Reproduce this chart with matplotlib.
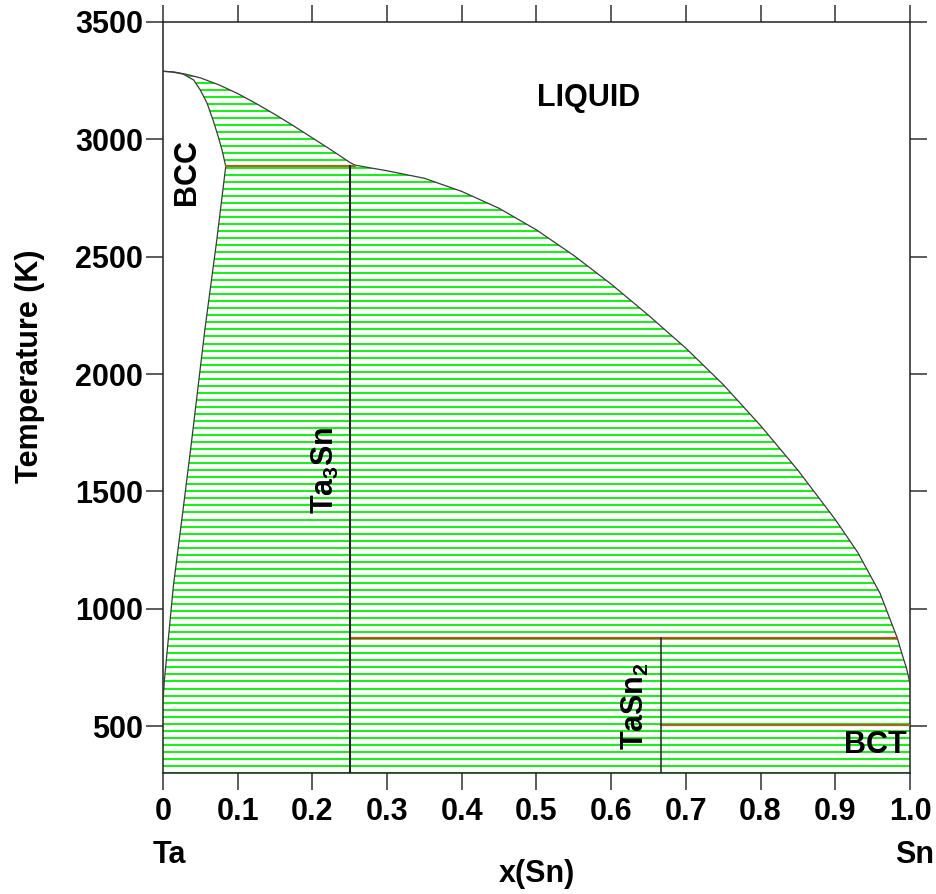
import numpy as np
import matplotlib
matplotlib.use("Agg")
import matplotlib.pyplot as plt
from matplotlib.path import Path
from matplotlib.patches import PathPatch

plt.rcParams['font.family'] = ['Liberation Sans', 'DejaVu Sans']
plt.rcParams['font.weight'] = 'bold'
plt.rcParams['mathtext.fontset'] = 'custom'
plt.rcParams['mathtext.rm'] = 'Liberation Sans:bold'
plt.rcParams['mathtext.bf'] = 'Liberation Sans:bold'
plt.rcParams['mathtext.default'] = 'bf'

# --- Ta-Sn phase boundaries (x = mole fraction Sn, T in K) ---
# BCC solidus: Ta melting point down to the peritectic
bcc_solidus_x = [0.0, 0.012, 0.027, 0.041, 0.050, 0.059, 0.067, 0.074, 0.079, 0.084]
bcc_solidus_T = [3290, 3287, 3278, 3253, 3210, 3154, 3082, 3011, 2955, 2885]
# BCC solvus below the peritectic
bcc_solvus_x = [0.084, 0.072, 0.056, 0.038, 0.026, 0.020, 0.014, 0.011,
                0.008, 0.005, 0.002, 0.0]
bcc_solvus_T = [2885, 2571, 2188, 1706, 1400, 1250, 1100, 1000,
                900, 800, 700, 610]
# Liquidus on the Ta side of Ta3Sn
liq_ta_x = [0.0, 0.015, 0.03, 0.05, 0.075, 0.10, 0.125, 0.15, 0.175,
            0.20, 0.225, 0.25, 0.257]
liq_ta_T = [3290, 3287, 3278, 3262, 3232, 3195, 3152, 3106, 3057,
            3006, 2955, 2902, 2890]
# Liquidus from Ta3Sn to pure Sn
liq_sn_x = [0.257, 0.30, 0.35, 0.40, 0.45, 0.50, 0.55, 0.60, 0.65, 0.70,
            0.75, 0.80, 0.85, 0.90, 0.93, 0.96, 0.983, 0.990, 0.995,
            0.998, 1.0]
liq_sn_T = [2890, 2866, 2834, 2778, 2706, 2614, 2505, 2383, 2250, 2110,
            1955, 1780, 1590, 1380, 1240, 1065, 875, 800, 750,
            710, 680]

# Compounds and invariant reactions
x_ta3sn, T_ta3sn = 0.25, 2885
x_tasn2, T_tasn2 = 0.667, 875
T_peritectic_bcc = 2885
x_peritectic_bcc = (0.084, 0.257)
x_peritectic_tasn2 = (0.25, 0.983)
T_sn_melt = 505
x_sn_melt = (0.667, 1.0)

T_min, T_max = 300, 3500
tie_T = np.arange(300, 3300, 30)

xticks = [0, 0.1, 0.2, 0.3, 0.4, 0.5, 0.6, 0.7, 0.8, 0.9, 1.0]
xtick_labels = ['0', '0.1', '0.2', '0.3', '0.4', '0.5', '0.6', '0.7', '0.8', '0.9', '1.0']
yticks = [500, 1000, 1500, 2000, 2500, 3000, 3500]

W, H = 937, 894
fig = plt.figure(figsize=(W / 100, H / 100), dpi=100)
ax = fig.add_axes([163 / W, 1 - 773 / H, 747 / W, 751 / H])
ax.set_xlim(0, 1)
ax.set_ylim(T_min, T_max)

# Two-phase region outline used to clip the tie lines
region_x = (bcc_solidus_x + bcc_solvus_x[1:] + [0.0, 1.0]
            + liq_sn_x[::-1][:-1] + liq_ta_x[::-1])
region_T = (bcc_solidus_T + bcc_solvus_T[1:] + [T_min, T_min]
            + liq_sn_T[::-1][:-1] + liq_ta_T[::-1])
verts = np.column_stack([region_x, region_T])
clip = PathPatch(Path(verts, closed=False), transform=ax.transData,
                 facecolor='none', edgecolor='none')
ax.add_patch(clip)

tie = ax.hlines(tie_T, 0, 1, colors='#00f000', linewidth=1.3, zorder=1)
tie.set_clip_path(clip)

bc = '#3a3a3a'
for xs, ts in [(bcc_solidus_x, bcc_solidus_T), (bcc_solvus_x, bcc_solvus_T),
               (liq_ta_x, liq_ta_T), (liq_sn_x, liq_sn_T)]:
    ax.plot(xs, ts, color=bc, lw=0.9, zorder=3, solid_joinstyle='round')

# Compound lines
ax.plot([x_ta3sn, x_ta3sn], [T_min, T_ta3sn], color='#202020', lw=1.5, zorder=4)
ax.plot([x_tasn2, x_tasn2], [T_min, T_tasn2], color='#202020', lw=1.1, zorder=4)

# Invariant lines
ax.plot(x_peritectic_bcc, [T_peritectic_bcc] * 2, color='#a8641e', lw=1.6, zorder=3)
ax.plot(x_peritectic_tasn2, [T_tasn2] * 2, color='#ff1a1a', lw=1.3, zorder=3)
ax.plot(x_sn_melt, [T_sn_melt] * 2, color='#9c6a1a', lw=1.6, zorder=3)

# Axes styling
for s in ax.spines.values():
    s.set_linewidth(1.1)
    s.set_color('#202020')
ax.set_xticks(xticks)
ax.set_xticklabels(xtick_labels)
ax.set_yticks(yticks)
ax.tick_params(which='both', direction='out', length=12.5, width=1.1,
               color='#303030', top=True, right=True, labelsize=22)
ax.tick_params(axis='x', pad=5)
ax.tick_params(axis='y', pad=2)
for lab in ax.get_xticklabels() + ax.get_yticklabels():
    lab.set_fontweight('bold')

def ftext(px, py, s, **kw):
    fig.text(px / W, 1 - py / H, s, ha='center', va='center',
             fontsize=22, fontweight='bold', **kw)

ftext(30, 366, 'Temperature (K)', rotation=90)
ftext(537, 874, 'x(Sn)')
ftext(169, 855, 'Ta')
ftext(915, 855, 'Sn')

def dtext(x, T, s, **kw):
    ax.text(x, T, s, ha='center', va='center', fontsize=22,
            fontweight='bold', zorder=5, **kw)

dtext(0.570, 3176, 'LIQUID')
dtext(0.032, 2861, 'BCC', rotation=90)
dtext(0.217, 1591, r'Ta$_3$Sn', rotation=90)
dtext(0.633, 585, r'TaSn$_2$', rotation=90)
dtext(0.953, 419, 'BCT')

fig.savefig('out.png', dpi=100)
